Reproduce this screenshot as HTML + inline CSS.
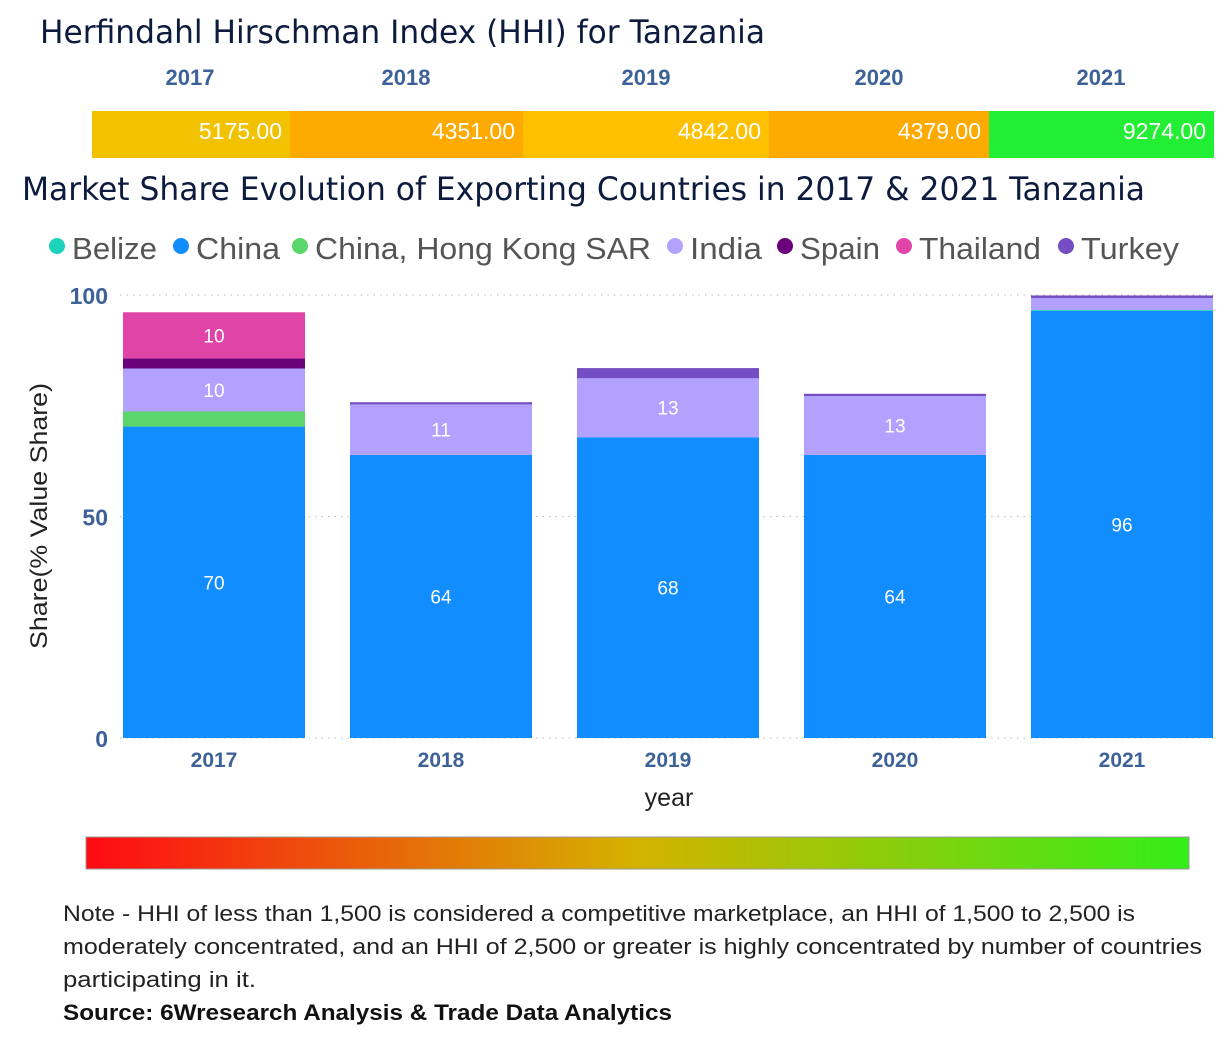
<!DOCTYPE html>
<html><head><meta charset="utf-8"><style>
body{margin:0;background:#fff;width:1221px;height:1049px;overflow:hidden;font-family:"Liberation Sans",sans-serif}
svg{display:block}
</style></head><body>
<svg id="c" width="1221" height="1049">
<text x="40" y="43" font-size="32" fill="#0d1b3e" textLength="725" lengthAdjust="spacingAndGlyphs" font-family="DejaVu Sans Condensed, Liberation Sans, sans-serif">Herfindahl Hirschman Index (HHI) for Tanzania</text>
<g id="hhi"></g>
<text x="22" y="200" font-size="32" fill="#0d1b3e" textLength="1123" lengthAdjust="spacingAndGlyphs" font-family="DejaVu Sans Condensed, Liberation Sans, sans-serif">Market Share Evolution of Exporting Countries in 2017 &amp; 2021 Tanzania</text>
<g id="legend"></g>
<g id="grid"></g>
<g id="bars"></g>
<g id="axes"></g>
<text transform="translate(47,516) rotate(-90)" text-anchor="middle" font-size="24" fill="#222" textLength="266" lengthAdjust="spacingAndGlyphs">Share(% Value Share)</text>
<text x="669" y="806" text-anchor="middle" font-size="25" fill="#222">year</text>
<defs><linearGradient id="g" x1="0" x2="1"><stop offset="0" stop-color="#ff0a14"/><stop offset="0.5" stop-color="#d4b300"/><stop offset="1" stop-color="#33ee18"/></linearGradient></defs>
<rect x="86" y="837" width="1103" height="32" fill="url(#g)" stroke="#999" stroke-width="1"/>
<text font-size="22" fill="#222" lengthAdjust="spacingAndGlyphs"><tspan x="63" y="921" textLength="1072" lengthAdjust="spacingAndGlyphs">Note - HHI of less than 1,500 is considered a competitive marketplace, an HHI of 1,500 to 2,500 is</tspan><tspan x="63" y="954" textLength="1139" lengthAdjust="spacingAndGlyphs">moderately concentrated, and an HHI of 2,500 or greater is highly concentrated by number of countries</tspan><tspan x="63" y="987" textLength="193" lengthAdjust="spacingAndGlyphs">participating in it.</tspan></text>
<text x="63" y="1020" font-size="22" font-weight="bold" fill="#111" textLength="609" lengthAdjust="spacingAndGlyphs">Source: 6Wresearch Analysis &amp; Trade Data Analytics</text>
</svg>
<script>
const years=["2017","2018","2019","2020","2021"];
const hhiValues=[5175,4351,4842,4379,9274];
const hhiColors=["#f2c200","#ffaa00","#ffc000","#ffaa00","#22ee33"];
const series=["Belize","China","China, Hong Kong SAR","India","Spain","Thailand","Turkey"];
const seriesColors=["#1ad3b8","#118dff","#5ad66a","#b3a1ff","#6b007b","#e044a7","#744ec2"];
const belize=[0,0,0,0,0.2];
const china=[70.3,63.9,67.9,63.9,96.4];
const hongkong=[3.4,0,0,0,0];
const india=[9.7,11.4,13.3,13.3,2.7];
const spain=[2.3,0,0,0,0];
const thailand=[10.4,0,0,0,0];
const turkey=[0,0.5,2.3,0.5,0.6];
const yTicks=[0,50,100];
const NS="http://www.w3.org/2000/svg";
function mk(t,a,p,txt){const e=document.createElementNS(NS,t);for(const k in a)e.setAttribute(k,a[k]);if(txt!==undefined)e.textContent=txt;p.appendChild(e);return e;}
const hhiG=document.getElementById('hhi');
const segX=[92,290,523,769,989,1214];
years.forEach((y,i)=>{
 const r=mk('rect',{x:segX[i],y:111,width:segX[i+1]-segX[i],height:47,fill:hhiColors[i]},hhiG);
 
 
 const v=mk('text',{x:segX[i+1]-8,y:139,'text-anchor':'end','font-size':23,fill:'#fff'},hhiG,hhiValues[i].toFixed(2));
 
 
 const l=mk('text',{x:[190,406,646,879,1101][i],y:85,'text-anchor':'middle','font-size':22,'font-weight':'bold',fill:'#3d6298'},hhiG,y);
 
 
});
const lg=document.getElementById('legend');
const lx=[57,181,300,675,785,904,1066];
const lw=[85,84,336,72,80,122,98];
series.forEach((s,i)=>{
 const c=mk('circle',{cx:lx[i],cy:246,r:8,fill:seriesColors[i]},lg);
 
 
 const t=mk('text',{x:lx[i]+15,y:259,'font-size':31,fill:'#555',textLength:lw[i],lengthAdjust:'spacingAndGlyphs'},lg,s);
 
 
});
const y0=738,y100=295;
const Y=v=>y0-(y0-y100)*v/100;
const X=i=>123+227*i;const BW=182;
const gg=document.getElementById('grid'),ax=document.getElementById('axes');
yTicks.forEach(t=>{
 const l=mk('line',{x1:120,x2:1215,y1:Y(t),y2:Y(t),stroke:'#bbb','stroke-dasharray':'1.5 5'},gg);
 
 
 const tx=mk('text',{x:108,y:Y(t)+9,'text-anchor':'end','font-size':23,'font-weight':'bold',fill:'#3d6298'},ax,t);
 
 
});
const bg=document.getElementById('bars');
const data=[belize,china,hongkong,india,spain,thailand,turkey];
const order=[1,0,2,3,4,5,6];
years.forEach((y,i)=>{
 let acc=0;
 order.forEach(si=>{
  const v=data[si][i];if(v<=0)return;
  const r=mk('rect',{x:X(i),y:Y(acc+v),width:BW,height:Y(acc)-Y(acc+v),fill:seriesColors[si]},bg);
  
  
  if(v>=9){
   const t=mk('text',{x:X(i)+BW/2,y:(Y(acc)+Y(acc+v))/2+7,'text-anchor':'middle','font-size':19,fill:'#fff'},bg,Math.round(v));
   
   
  }
  acc+=v;
 });
 const xt=mk('text',{x:X(i)+BW/2,y:767,'text-anchor':'middle','font-size':21,'font-weight':'bold',fill:'#3d6298'},ax,y);
 
 
});
</script>
</body></html>
